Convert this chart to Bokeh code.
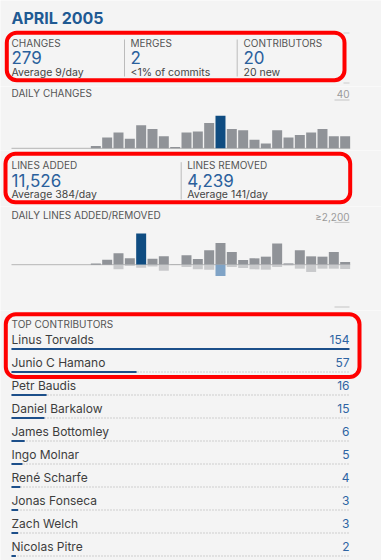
from bokeh.plotting import figure
from bokeh.layouts import column
from bokeh.models import Range1d, BoxAnnotation, ColumnDataSource
from bokeh.core.properties import value
from bokeh.embed import file_html
from bokeh.resources import INLINE

# ---------------- data ----------------
title_text = "APRIL 2005"
stat_labels = ["CHANGES", "MERGES", "CONTRIBUTORS"]
stat_values = ["279", "2", "20"]
stat_notes = ["Average 9/day", "<1% of commits", "20 new"]

line_labels = ["LINES ADDED", "LINES REMOVED"]
line_values = ["11,526", "4,239"]
line_notes = ["Average 384/day", "Average 141/day"]

days = list(range(1, 31))
daily_changes = [0, 0, 0, 0, 0, 0, 0, 2, 9, 13, 8, 19, 16, 10, 1, 13,
                 14, 21, 27, 16, 15, 7, 4, 15, 9, 11, 13, 16, 10, 10]
lines_added = [0, 0, 0, 0, 0, 0, 0, 68, 262, 591, 330, 1621, 314, 434, 10, 486,
               298, 748, 1135, 664, 246, 330, 418, 1098, 68, 748, 434, 418, 664, 141]
lines_removed = [0, 0, 0, 0, 0, 0, 0, 0, 0, 243, 67, 155, 88, 311, 0, 119,
                 243, 259, 585, 119, 171, 243, 259, 119, 36, 207, 378, 207, 207, 223]
changes_scale = 40
lines_scale = 2200
changes_scale_label = "40"
lines_scale_label = "\u22652,200"

contrib_title = "TOP CONTRIBUTORS"
contrib_names = ["Linus Torvalds", "Junio C Hamano", "Petr Baudis", "Daniel Barkalow",
                 "James Bottomley", "Ingo Molnar", "Ren\u00e9 Scharfe", "Jonas Fonseca",
                 "Zach Welch", "Nicolas Pitre"]
contrib_commits = [154, 57, 16, 15, 6, 5, 4, 3, 3, 2]

# ---------------- style ----------------
W = 381
FONT = "Inter"
BG = "#f4f4f4"
TITLE_C = "#1f5a93"
LABEL_C = "#555555"
VALUE_C = "#2a609c"
NOTE_C = "#444444"
GRAY_BAR = "#909398"
DARK_BLUE = "#0f4c81"
LIGHT_GRAY = "#c8c9cb"
LIGHT_BLUE = "#7fa3c6"
RED = "#ff0000"


def make_fig(h):
    p = figure(width=W, height=h, x_range=Range1d(0, W), y_range=Range1d(h, 0),
               output_backend="svg", toolbar_location=None, min_border=0,
               x_axis_type=None, y_axis_type=None,
               background_fill_color=BG, border_fill_color=BG, outline_line_color=None)
    p.xgrid.visible = False
    p.ygrid.visible = False
    return p


def lin_range(px_a, v_a, px_b, v_b, total, invert=False):
    slope = (v_b - v_a) / (px_b - px_a)
    at0 = v_a - px_a * slope
    at_t = v_a + (total - px_a) * slope
    if invert:
        return Range1d(start=at_t, end=at0)
    return Range1d(start=at0, end=at_t)


def txt(p, x, y, s, size, color, weight="normal", align="left", xr="default", yr="default"):
    p.text(x=[x], y=[y], text=[s], text_font=value(FONT), text_font_size=f"{size}px",
           text_color=color, text_font_style=weight, text_align=align,
           text_baseline="middle", x_range_name=xr, y_range_name=yr)


def red_box(p, l, r, t, b):
    p.add_layout(BoxAnnotation(left=l, right=r, top=t, bottom=b, fill_color=None,
                               line_color=RED, line_alpha=1.0, line_width=4,
                               border_radius=10))


# ---------------- figure 1 : header ----------------
f1 = make_fig(86)
txt(f1, 11, 17.5, title_text, 16, TITLE_C, weight="bold")
f1.segment(x0=[343, 343], y0=[32.5, 82.5], x1=[349, 349], y1=[32.5, 82.5],
           line_color="#cccccc", line_width=1)
col_x = [11, 130, 243]
for i in range(3):
    txt(f1, col_x[i], 42.5, stat_labels[i], 10, LABEL_C)
    txt(f1, col_x[i], 57, stat_values[i], 17, VALUE_C)
    txt(f1, col_x[i], 71.5, stat_notes[i], 10.5, NOTE_C)
f1.segment(x0=[124, 236.7], y0=[39, 39], x1=[124, 236.7], y1=[76, 76],
           line_color="#bbbbbb", line_width=1)
red_box(f1, 6.3, 344, 32.2, 79.7)

# ---------------- figure 2 : daily changes ----------------
H2 = 64
f2 = make_fig(H2)
f2.extra_x_ranges = {"day": lin_range(16, days[0], 16 + 29 * 11.333, days[-1], W)}
f2.extra_y_ranges = {"cnt": lin_range(61.8, 0, 13.5, changes_scale, H2, invert=True)}
txt(f2, 11, 6, "DAILY CHANGES", 10, LABEL_C)
txt(f2, 349, 7.3, changes_scale_label, 10, "#9a9a9a", align="right")
f2.segment(x0=[334], y0=[changes_scale], x1=[349], y1=[changes_scale],
           line_color="#c4c4c4", line_width=1, y_range_name="cnt")
f2.segment(x0=[days[0] - 0.44], y0=[0], x1=[days[-1] + 0.44], y1=[0],
           line_color="#b5b5b5", line_width=1, x_range_name="day", y_range_name="cnt")
mx = max(daily_changes)
src2 = ColumnDataSource(dict(day=days, v=daily_changes,
                             c=[DARK_BLUE if v == mx else GRAY_BAR for v in daily_changes]))
f2.vbar(x="day", top="v", bottom=0, width=0.88, source=src2, fill_color="c",
        line_color=None, x_range_name="day", y_range_name="cnt")

# ---------------- figure 3 : lines stats ----------------
f3 = make_fig(56)
col_x2 = [11, 186.7]
for i in range(2):
    txt(f3, col_x2[i], 14.7, line_labels[i], 10, LABEL_C)
    txt(f3, col_x2[i], 29.5, line_values[i], 17, VALUE_C)
    txt(f3, col_x2[i], 44, line_notes[i], 10.5, NOTE_C)
f3.segment(x0=[180.7], y0=[11.7], x1=[180.7], y1=[49], line_color="#bbbbbb", line_width=1)
red_box(f3, 5, 349.7, 3.3, 51.8)

# ---------------- figure 4 : daily lines ----------------
H4 = 104
f4 = make_fig(H4)
f4.extra_x_ranges = {"day": lin_range(16, days[0], 16 + 29 * 11.333, days[-1], W)}
f4.extra_y_ranges = {"ln": lin_range(58.2, 0, 15.9, lines_scale, H4, invert=True)}
txt(f4, 11, 8, "DAILY LINES ADDED/REMOVED", 10, LABEL_C)
txt(f4, 349, 10.2, lines_scale_label, 10, "#9a9a9a", align="right")
f4.segment(x0=[334, 334], y0=[lines_scale, -lines_scale], x1=[349, 349],
           y1=[lines_scale, -lines_scale], line_color="#c4c4c4", line_width=1, y_range_name="ln")
f4.segment(x0=[days[0] - 0.44], y0=[0], x1=[days[-1] + 0.44], y1=[0],
           line_color="#b5b5b5", line_width=1, x_range_name="day", y_range_name="ln")
ma = max(lines_added)
mr = max(lines_removed)
src4 = ColumnDataSource(dict(
    day=days, a=lines_added, r=[-v for v in lines_removed],
    ca=[DARK_BLUE if v == ma else GRAY_BAR for v in lines_added],
    cr=[LIGHT_BLUE if v == mr else LIGHT_GRAY for v in lines_removed]))
f4.vbar(x="day", top="a", bottom=0, width=0.88, source=src4, fill_color="ca",
        line_color=None, x_range_name="day", y_range_name="ln")
f4.vbar(x="day", top=0, bottom="r", width=0.88, source=src4, fill_color="cr",
        line_color=None, x_range_name="day", y_range_name="ln")

# ---------------- figure 5 : contributors ----------------
H5 = 250
f5 = make_fig(H5)
f5.extra_x_ranges = {"cm": lin_range(11, 0, 349, max(contrib_commits), W)}
f5.extra_y_ranges = {"row": lin_range(38.5, 0, 61.5, 1, H5, invert=True)}
txt(f5, 11, 13, contrib_title, 10, LABEL_C)
rows = list(range(len(contrib_names)))
src5 = ColumnDataSource(dict(row=rows, ty=[r - 0.41 for r in rows], name=contrib_names,
                             v=contrib_commits, vs=[str(v) for v in contrib_commits],
                             zero=[0] * len(rows), full=[max(contrib_commits)] * len(rows),
                             rx=[349] * len(rows)))
f5.segment(x0="zero", y0="row", x1="full", y1="row", source=src5, line_color="#a8a8a8",
           line_width=1, line_dash="1 2", x_range_name="cm", y_range_name="row")
f5.segment(x0="zero", y0="row", x1="v", y1="row", source=src5, line_color="#1c4f8a",
           line_width=2.2, x_range_name="cm", y_range_name="row")
f5.text(x="zero", y="ty", text="name", source=src5, text_font=value(FONT),
        text_font_size="12px", text_color="#3d3d3d", text_baseline="middle",
        x_range_name="cm", y_range_name="row")
f5.text(x="rx", y="ty", text="vs", source=src5, text_font=value(FONT),
        text_font_size="12px", text_color="#2e64a3", text_baseline="middle",
        text_align="right", y_range_name="row")
red_box(f5, 5.3, 359, 3.8, 66.5)

layout = column(f1, f2, f3, f4, f5, spacing=0)
open("out.html", "w").write(file_html(layout, INLINE))
